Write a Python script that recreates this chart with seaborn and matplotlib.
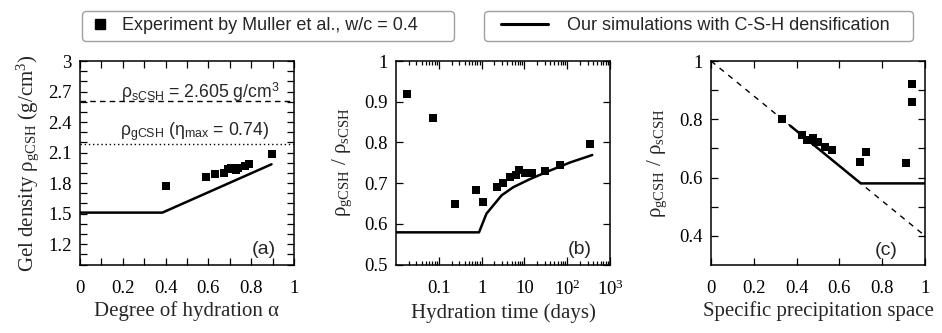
import numpy as np
import pandas as pd
import matplotlib
matplotlib.use("Agg")
import matplotlib.pyplot as plt
import seaborn as sns
from matplotlib.ticker import FixedLocator, MultipleLocator, FixedFormatter, NullLocator, LogLocator, NullFormatter, FormatStrFormatter
from matplotlib.lines import Line2D
from matplotlib.legend_handler import HandlerLine2D

sns.set_style("ticks")
plt.rcParams["font.family"] = ["Liberation Serif", "DejaVu Serif"]
plt.rcParams["mathtext.fontset"] = "custom"
plt.rcParams["mathtext.rm"] = "Liberation Serif"
plt.rcParams["mathtext.it"] = "Liberation Serif:italic"
plt.rcParams["mathtext.sf"] = "Liberation Sans"

# ---------------- data ----------------
# (a) degree of hydration vs gel density
a_exp_alpha = [0.402, 0.589, 0.631, 0.671, 0.690, 0.706, 0.730, 0.740, 0.771, 0.791, 0.896]
a_exp_rho = [1.77, 1.86, 1.886, 1.90, 1.938, 1.945, 1.932, 1.951, 1.968, 1.984, 2.082]
a_sim_alpha = [0.0, 0.385, 0.895]
a_sim_rho = [1.51, 1.51, 1.985]
rho_sCSH = 2.605
rho_gCSH_max = 2.18

# (b) hydration time vs density ratio
b_exp_time = [0.0185, 0.072, 0.243, 0.74, 1.07, 2.32, 3.2, 4.6, 6.3, 7.5, 10.4, 14.9, 29.6, 69, 333]
b_exp_ratio = [0.920, 0.859, 0.649, 0.682, 0.654, 0.690, 0.700, 0.715, 0.721, 0.731, 0.724, 0.724, 0.729, 0.745, 0.796]
b_sim_time = [0.01, 0.87, 1.3, 2.94, 5.5, 13.6, 40, 119, 385]
b_sim_ratio = [0.579, 0.579, 0.625, 0.670, 0.690, 0.710, 0.731, 0.751, 0.769]

# (c) specific precipitation space vs density ratio
c_exp_space = [0.330, 0.424, 0.447, 0.467, 0.478, 0.489, 0.501, 0.533, 0.567, 0.698, 0.724, 0.913, 0.938, 0.938]
c_exp_ratio = [0.800, 0.746, 0.729, 0.729, 0.735, 0.721, 0.723, 0.706, 0.695, 0.654, 0.687, 0.651, 0.921, 0.860]
c_sim_space = [0.37, 0.70, 1.0]
c_sim_ratio = [0.778, 0.58, 0.58]
c_ref_space = [0.0, 1.0]
c_ref_ratio = [1.0, 0.40]

legend_labels = ["Experiment by Muller et al., w/c = 0.4", "Our simulations with C-S-H densification"]

# ---------------- figure ----------------
W, H = 942, 333
fig = plt.figure(figsize=(W / 100, H / 100), dpi=100)

def ax_at(x0, x1, y0, y1):
    return fig.add_axes([x0 / W, 1 - y1 / H, (x1 - x0) / W, (y1 - y0) / H])

axa = ax_at(80, 294, 61, 264.5)
axb = ax_at(396, 610, 61, 264.5)
axc = ax_at(711, 925, 61, 265)

TICK_FS = 13.5
LAB_FS = 15
MS = 28
LW = 1.8

for ax in (axa, axb, axc):
    for s in ax.spines.values():
        s.set_linewidth(1.1)
        s.set_color("black")
    ax.tick_params(which="both", direction="in", top=True, right=True,
                   width=0.9, colors="black", labelsize=TICK_FS)
    ax.tick_params(which="major", length=5)
    ax.tick_params(which="minor", length=5)
    ax.tick_params(axis="x", pad=11)
    ax.tick_params(axis="y", pad=6)

# (a)
sns.lineplot(x=a_sim_alpha, y=a_sim_rho, ax=axa, color="black", lw=LW, sort=False, estimator=None)
sns.scatterplot(x=a_exp_alpha, y=a_exp_rho, ax=axa, marker="s", s=MS, color="black", linewidth=0, zorder=5)
axa.axhline(rho_sCSH, color="black", lw=1.0, ls=(0, (4, 3)))
axa.axhline(rho_gCSH_max, color="black", lw=1.0, ls=(0, (1, 2)))
axa.set_xlim(0, 1)
axa.set_ylim(1.0, 3.0)
axa.xaxis.set_major_locator(MultipleLocator(0.2))
axa.xaxis.set_minor_locator(MultipleLocator(0.1))
axa.xaxis.set_major_formatter(FormatStrFormatter("%g"))
axa.yaxis.set_major_locator(FixedLocator([1.2, 1.5, 1.8, 2.1, 2.4, 2.7, 3.0]))
axa.yaxis.set_major_formatter(FormatStrFormatter("%g"))
axa.yaxis.set_minor_locator(MultipleLocator(0.1))
axa.set_xlabel("Degree of hydration α", fontsize=LAB_FS, labelpad=3)
axa.set_ylabel("Gel density ρ$_{\\mathregular{gCSH}}$ (g/cm$^{\\mathregular{3}}$)", fontsize=LAB_FS, labelpad=5)
axa.text(0.56, 2.69, "ρ$_{\\mathsf{sCSH}}$ = 2.605 g/cm$^{\\mathsf{3}}$", ha="center", va="center",
         fontsize=12.7, family=["Liberation Sans"])
axa.text(0.537, 2.31, "ρ$_{\\mathsf{gCSH}}$ (η$_{\\mathsf{max}}$ = 0.74)", ha="center", va="center",
         fontsize=12.7, family=["Liberation Sans"])
axa.text(0.915, 0.03, "(a)", transform=axa.transAxes, ha="right", va="bottom", fontsize=14, family=["Liberation Sans"])

# (b)
sns.lineplot(x=b_sim_time, y=b_sim_ratio, ax=axb, color="black", lw=LW, sort=False, estimator=None)
sns.scatterplot(x=b_exp_time, y=b_exp_ratio, ax=axb, marker="s", s=MS, color="black", linewidth=0, zorder=5)
axb.set_xscale("log")
axb.set_xlim(0.01, 1000)
axb.set_ylim(0.5, 1.0)
axb.xaxis.set_major_locator(FixedLocator([0.1, 1, 10, 100, 1000]))
axb.xaxis.set_major_formatter(FixedFormatter(["0.1", "1", "10", "10$^{\\mathregular{2}}$", "10$^{\\mathregular{3}}$"]))
axb.xaxis.set_minor_locator(LogLocator(base=10, subs=np.arange(2, 10), numticks=20))
axb.xaxis.set_minor_formatter(NullFormatter())
axb.tick_params(axis="x", which="minor", length=3)
axb.tick_params(axis="x", which="major", length=6)
axb.yaxis.set_major_locator(MultipleLocator(0.1))
axb.yaxis.set_major_formatter(FormatStrFormatter("%g"))
axb.yaxis.set_minor_locator(NullLocator())
axb.set_xlabel("Hydration time (days)", fontsize=LAB_FS, labelpad=3)
axb.set_ylabel("ρ$_{\\mathregular{gCSH}}$ / ρ$_{\\mathregular{sCSH}}$", fontsize=LAB_FS, labelpad=7)
axb.text(0.915, 0.03, "(b)", transform=axb.transAxes, ha="right", va="bottom", fontsize=14, family=["Liberation Sans"])

# (c)
sns.lineplot(x=c_ref_space, y=c_ref_ratio, ax=axc, color="black", lw=1.0, ls=(0, (4, 4)), sort=False, estimator=None)
sns.lineplot(x=c_sim_space, y=c_sim_ratio, ax=axc, color="black", lw=LW, sort=False, estimator=None)
sns.scatterplot(x=c_exp_space, y=c_exp_ratio, ax=axc, marker="s", s=MS, color="black", linewidth=0, zorder=5)
axc.set_xlim(0, 1)
axc.set_ylim(0.3, 1.0)
axc.xaxis.set_major_locator(MultipleLocator(0.2))
axc.xaxis.set_major_formatter(FormatStrFormatter("%g"))
axc.xaxis.set_minor_locator(NullLocator())
axc.yaxis.set_major_locator(FixedLocator([0.4, 0.6, 0.8, 1.0]))
axc.yaxis.set_major_formatter(FormatStrFormatter("%g"))
axc.yaxis.set_minor_locator(FixedLocator([0.5, 0.7, 0.9]))
axc.set_xlabel("Specific precipitation space", fontsize=LAB_FS, labelpad=3)
axc.set_ylabel("ρ$_{\\mathregular{gCSH}}$ / ρ$_{\\mathregular{sCSH}}$", fontsize=LAB_FS, labelpad=7)
axc.text(0.87, 0.03, "(c)", transform=axc.transAxes, ha="right", va="bottom", fontsize=14, family=["Liberation Sans"])

for ax in (axa, axb, axc):
    lg = ax.get_legend()
    if lg is not None:
        lg.remove()

# legends (two separate boxes)
LEG_FS = 13.0
h1 = Line2D([], [], marker="s", ls="none", color="black", markersize=6.5)
h2 = Line2D([], [], color="black", lw=2.2)
leg_kw = dict(loc="center", mode="expand", frameon=True, fancybox=True, edgecolor="#a0a0a0",
              prop={"family": "Liberation Sans", "size": LEG_FS}, borderpad=0.35, borderaxespad=0)
l1 = fig.legend([h1], [legend_labels[0]],
                bbox_to_anchor=(82 / W, 1 - 42 / H, 372 / W, 32 / H),
                handlelength=1.3, handletextpad=0.56, **leg_kw)
l2 = fig.legend([h2], [legend_labels[1]],
                bbox_to_anchor=(484 / W, 1 - 42 / H, 429 / W, 32 / H),
                handlelength=3.2, handletextpad=1.05,
                handler_map={h2: HandlerLine2D(xpad=0.59)}, **leg_kw)
for l in (l1, l2):
    l.get_frame().set_linewidth(1.0)
    l.get_frame().set_alpha(1)

fig.savefig("out.png", dpi=100)
